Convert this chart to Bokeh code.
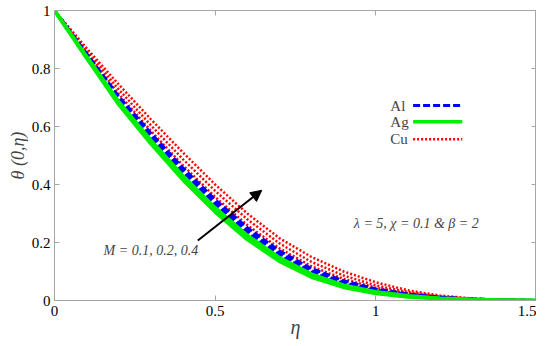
from bokeh.plotting import figure
from bokeh.models import (FixedTicker, LinearAxis, Range1d, Label, Arrow, NormalHead)
from bokeh.embed import file_html
from bokeh.resources import INLINE

eta = [0, 0.1, 0.2, 0.3, 0.4, 0.5, 0.6, 0.7, 0.8, 0.9, 1.0, 1.1, 1.2, 1.3, 1.4, 1.5]

# Ag (green), M = 0.1, 0.2, 0.4
ag_m1 = [1, 0.835, 0.675, 0.540, 0.415, 0.305, 0.210, 0.135, 0.080, 0.045, 0.024, 0.012, 0.006, 0.003, 0.001, 0]
ag_m2 = [1, 0.838, 0.680, 0.546, 0.422, 0.312, 0.217, 0.141, 0.085, 0.049, 0.027, 0.014, 0.007, 0.003, 0.001, 0]
ag_m3 = [1, 0.842, 0.686, 0.553, 0.430, 0.320, 0.225, 0.148, 0.091, 0.053, 0.030, 0.016, 0.008, 0.004, 0.001, 0]

# Al (blue)
al_m1 = [1, 0.845, 0.690, 0.560, 0.438, 0.328, 0.232, 0.155, 0.097, 0.058, 0.033, 0.018, 0.009, 0.004, 0.002, 0]
al_m2 = [1, 0.848, 0.697, 0.568, 0.447, 0.337, 0.241, 0.162, 0.103, 0.062, 0.036, 0.020, 0.010, 0.005, 0.002, 0]
al_m3 = [1, 0.852, 0.704, 0.577, 0.457, 0.348, 0.251, 0.171, 0.110, 0.068, 0.040, 0.022, 0.011, 0.005, 0.002, 0]

# Cu (red)
cu_m1 = [1, 0.855, 0.712, 0.585, 0.466, 0.357, 0.260, 0.180, 0.118, 0.074, 0.044, 0.025, 0.012, 0.005, 0.002, 0]
cu_m2 = [1, 0.862, 0.728, 0.604, 0.487, 0.378, 0.280, 0.197, 0.133, 0.086, 0.052, 0.029, 0.014, 0.006, 0.002, 0]
cu_m3 = [1, 0.870, 0.745, 0.625, 0.510, 0.400, 0.300, 0.215, 0.150, 0.100, 0.063, 0.035, 0.017, 0.007, 0.002, 0]

x_ticks = [0, 0.5, 1, 1.5]
y_ticks = [0, 0.2, 0.4, 0.6, 0.8, 1]

materials = ["Al", "Ag", "Cu"]

FONT = "Liberation Serif"
GRAY = "#a6a6a6"

p = figure(frame_width=482, frame_height=290, output_backend="svg", toolbar_location=None,
           x_range=Range1d(0, 1.5), y_range=Range1d(0, 1),
           min_border_left=54, min_border_right=0, min_border_top=10, min_border_bottom=42)
p.outline_line_color = GRAY
p.grid.visible = False
p.background_fill_color = "white"

for ax, tk in ((p.xaxis[0], x_ticks), (p.yaxis[0], y_ticks)):
    ax.ticker = FixedTicker(ticks=tk)
    ax.minor_tick_line_color = None
    ax.major_tick_in = 5
    ax.major_tick_out = 0
    ax.axis_line_color = GRAY
    ax.major_tick_line_color = GRAY
    ax.major_label_text_font = FONT
    ax.major_label_text_font_size = "15px"
    ax.major_label_text_color = "black"
    ax.axis_label_text_font = FONT
    ax.axis_label_text_font_style = "italic"
    ax.axis_label_text_font_size = "18px"

p.xaxis[0].major_label_standoff = 5
p.xaxis[0].axis_label = "η"
p.xaxis[0].axis_label_text_font_size = "20px"
p.xaxis[0].axis_label_standoff = -3
p.yaxis[0].major_label_standoff = 4
p.yaxis[0].axis_label = "θ (0,η)"
p.yaxis[0].axis_label_standoff = 1

top_ax = LinearAxis(ticker=FixedTicker(ticks=x_ticks),
                    major_label_overrides={t: "" for t in x_ticks})
right_ax = LinearAxis(ticker=FixedTicker(ticks=y_ticks),
                      major_label_overrides={t: "" for t in y_ticks})
for ax in (top_ax, right_ax):
    ax.minor_tick_line_color = None
    ax.major_tick_in = 5
    ax.major_tick_out = 0
    ax.major_label_standoff = 0
    ax.axis_line_color = GRAY
    ax.major_tick_line_color = GRAY
p.add_layout(top_ax, "above")
p.add_layout(right_ax, "right")

styles = {
    "Cu": dict(line_color="red", line_width=2.5, line_dash="2 2"),
    "Al": dict(line_color="blue", line_width=3, line_dash="7 3"),
    "Ag": dict(line_color="#00ee00", line_width=3.5),
}

for c in (cu_m1, cu_m2, cu_m3):
    p.line(eta, c, **styles["Cu"])
for c in (al_m1, al_m2, al_m3):
    p.line(eta, c, **styles["Al"])
for c in (ag_m1, ag_m2, ag_m3):
    p.line(eta, c, **styles["Ag"])

# legend (text on the left, sample line on the right)
legend_text_x = 1.045
legend_line_x = [1.116, 1.269]
legend_y = [0.672, 0.616, 0.556]
for name, ly in zip(materials, legend_y):
    p.line(legend_line_x, [ly, ly], **styles[name])
    p.add_layout(Label(x=legend_text_x, y=ly, text=name, text_font=FONT,
                       text_font_size="15px", text_baseline="middle", text_align="left"))

p.add_layout(Arrow(end=NormalHead(size=11, fill_color="black", line_color="black"),
                   x_start=0.446, y_start=0.207, x_end=0.645, y_end=0.38,
                   line_width=2, line_color="black"))
p.add_layout(Label(x=0.3, y=0.172, text="M = 0.1, 0.2, 0.4", text_font=FONT,
                   text_font_style="italic", text_font_size="14px", text_align="center",
                   text_baseline="middle"))
p.add_layout(Label(x=1.126, y=0.266, text="λ = 5, χ = 0.1 & β = 2", text_font=FONT,
                   text_font_style="italic", text_font_size="14px", text_align="center",
                   text_baseline="middle"))

open("out.html", "w").write(file_html(p, INLINE))
